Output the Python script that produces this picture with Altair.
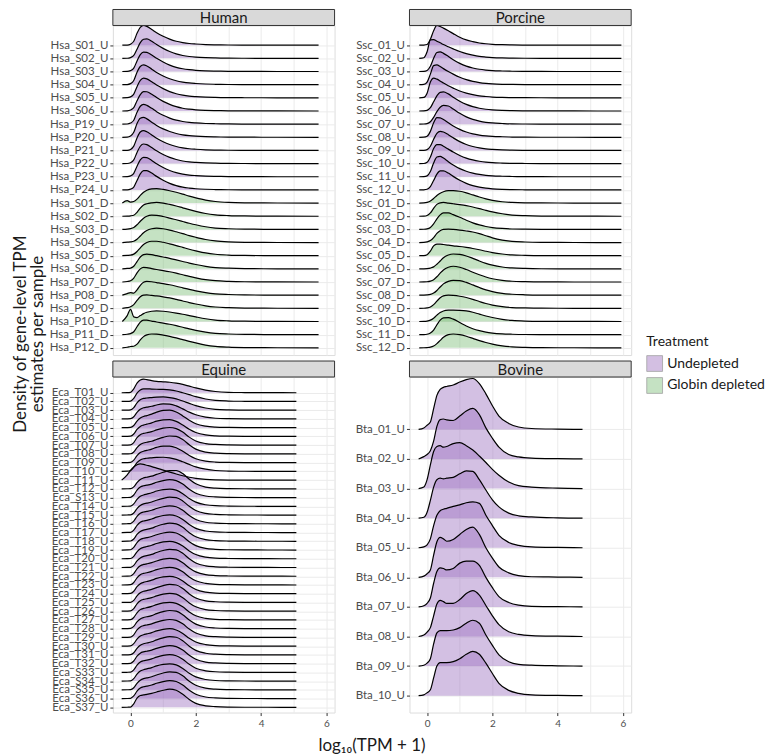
import json
import altair as alt
import pandas as pd

# ---------------- data (heights in units of ridge spacing) ----------------
HUMAN_X = [-0.25, -0.1, 0.0, 0.1, 0.2, 0.3, 0.4, 0.5, 0.65, 0.8, 1.0, 1.2, 1.4, 1.6, 1.8, 2.0, 2.3, 2.6, 3.0, 3.5, 4.5, 5.76]
HUMAN_SAMPLES = ["Hsa_S01_U", "Hsa_S02_U", "Hsa_S03_U", "Hsa_S04_U", "Hsa_S05_U", "Hsa_S06_U",
                 "Hsa_P19_U", "Hsa_P20_U", "Hsa_P21_U", "Hsa_P22_U", "Hsa_P23_U", "Hsa_P24_U",
                 "Hsa_S01_D", "Hsa_S02_D", "Hsa_S03_D", "Hsa_S04_D", "Hsa_S05_D", "Hsa_S06_D",
                 "Hsa_P07_D", "Hsa_P08_D", "Hsa_P09_D", "Hsa_P10_D", "Hsa_P11_D", "Hsa_P12_D"]
HUMAN_DENSITY = [
    [0, 0.01, 0.08, 0.30, 0.90, 1.35, 1.50, 1.43, 1.20, 0.95, 0.68, 0.46, 0.30, 0.20, 0.13, 0.09, 0.05, 0.03, 0.015, 0.008, 0.003, 0],
    [0, 0.01, 0.06, 0.22, 0.70, 1.20, 1.45, 1.48, 1.30, 1.05, 0.76, 0.52, 0.34, 0.22, 0.14, 0.09, 0.05, 0.03, 0.015, 0.008, 0.003, 0],
    [0, 0.01, 0.07, 0.26, 0.80, 1.28, 1.48, 1.45, 1.25, 1.00, 0.72, 0.49, 0.32, 0.21, 0.14, 0.09, 0.05, 0.03, 0.015, 0.008, 0.003, 0],
    [0, 0.01, 0.08, 0.32, 0.95, 1.38, 1.50, 1.42, 1.18, 0.93, 0.66, 0.45, 0.30, 0.20, 0.13, 0.09, 0.05, 0.03, 0.015, 0.008, 0.003, 0],
    [0, 0.01, 0.07, 0.28, 0.85, 1.32, 1.50, 1.44, 1.22, 0.97, 0.70, 0.47, 0.31, 0.20, 0.13, 0.09, 0.05, 0.03, 0.015, 0.008, 0.003, 0],
    [0, 0.01, 0.07, 0.25, 0.78, 1.25, 1.47, 1.46, 1.27, 1.02, 0.73, 0.50, 0.33, 0.21, 0.14, 0.09, 0.05, 0.03, 0.015, 0.008, 0.003, 0],
    [0, 0.01, 0.08, 0.30, 0.90, 1.36, 1.50, 1.43, 1.20, 0.95, 0.67, 0.46, 0.30, 0.20, 0.13, 0.09, 0.05, 0.03, 0.015, 0.008, 0.003, 0],
    [0, 0.01, 0.09, 0.38, 1.05, 1.45, 1.52, 1.40, 1.15, 0.90, 0.64, 0.44, 0.29, 0.19, 0.13, 0.09, 0.05, 0.03, 0.015, 0.008, 0.003, 0],
    [0, 0.01, 0.08, 0.33, 0.95, 1.40, 1.50, 1.42, 1.18, 0.93, 0.66, 0.45, 0.30, 0.20, 0.13, 0.09, 0.05, 0.03, 0.015, 0.008, 0.003, 0],
    [0, 0.01, 0.07, 0.28, 0.85, 1.32, 1.49, 1.44, 1.22, 0.97, 0.69, 0.47, 0.31, 0.20, 0.13, 0.09, 0.05, 0.03, 0.015, 0.008, 0.003, 0],
    [0, 0.01, 0.07, 0.26, 0.80, 1.28, 1.48, 1.45, 1.24, 0.99, 0.70, 0.48, 0.31, 0.20, 0.13, 0.09, 0.05, 0.03, 0.015, 0.008, 0.003, 0],
    [0, 0.01, 0.06, 0.22, 0.72, 1.22, 1.46, 1.47, 1.28, 1.03, 0.74, 0.50, 0.33, 0.21, 0.14, 0.09, 0.05, 0.03, 0.015, 0.008, 0.003, 0],
    [0, 0.18, 0.08, 0.12, 0.30, 0.58, 0.82, 0.98, 1.08, 1.10, 1.04, 0.94, 0.82, 0.68, 0.53, 0.40, 0.23, 0.12, 0.05, 0.02, 0.005, 0],
    [0, 0.01, 0.03, 0.08, 0.30, 0.62, 0.85, 0.95, 1.02, 1.05, 1.00, 0.90, 0.78, 0.64, 0.50, 0.37, 0.21, 0.11, 0.05, 0.02, 0.005, 0],
    [0, 0.02, 0.06, 0.15, 0.35, 0.62, 0.85, 1.00, 1.08, 1.07, 0.98, 0.86, 0.73, 0.60, 0.47, 0.35, 0.20, 0.10, 0.05, 0.02, 0.005, 0],
    [0, 0.03, 0.05, 0.10, 0.25, 0.50, 0.75, 0.92, 1.05, 1.10, 1.05, 0.95, 0.82, 0.68, 0.53, 0.40, 0.23, 0.12, 0.05, 0.02, 0.005, 0],
    [0, 0.02, 0.04, 0.12, 0.32, 0.60, 0.85, 1.00, 1.10, 1.10, 1.02, 0.90, 0.77, 0.63, 0.49, 0.37, 0.21, 0.11, 0.05, 0.02, 0.005, 0],
    [0, 0.03, 0.06, 0.20, 0.55, 0.90, 1.08, 1.12, 1.08, 1.00, 0.90, 0.80, 0.68, 0.56, 0.44, 0.33, 0.19, 0.10, 0.05, 0.02, 0.005, 0],
    [0, 0.04, 0.10, 0.30, 0.70, 1.00, 1.12, 1.10, 1.02, 0.95, 0.87, 0.78, 0.67, 0.55, 0.43, 0.32, 0.18, 0.10, 0.05, 0.02, 0.005, 0],
    [0, 0.12, 0.20, 0.15, 0.40, 0.75, 0.98, 1.05, 1.02, 0.96, 0.88, 0.79, 0.68, 0.56, 0.44, 0.33, 0.19, 0.10, 0.05, 0.02, 0.005, 0],
    [0, 0.05, 0.12, 0.28, 0.60, 0.88, 1.00, 1.02, 0.98, 0.94, 0.87, 0.79, 0.68, 0.56, 0.44, 0.33, 0.19, 0.10, 0.05, 0.02, 0.005, 0],
    [0, 0.45, 0.92, 0.35, 0.30, 0.45, 0.60, 0.70, 0.78, 0.80, 0.78, 0.72, 0.64, 0.55, 0.45, 0.35, 0.21, 0.11, 0.05, 0.02, 0.005, 0],
    [0, 0.03, 0.08, 0.22, 0.60, 0.95, 1.10, 1.10, 1.03, 0.96, 0.88, 0.79, 0.68, 0.56, 0.44, 0.33, 0.19, 0.10, 0.05, 0.02, 0.005, 0],
    [0, 0.04, 0.10, 0.12, 0.28, 0.60, 0.85, 0.98, 1.05, 1.04, 0.97, 0.87, 0.75, 0.62, 0.49, 0.37, 0.21, 0.11, 0.05, 0.02, 0.005, 0],
]

PORCINE_X = [-0.24, -0.1, 0.0, 0.1, 0.2, 0.3, 0.4, 0.5, 0.65, 0.8, 1.0, 1.2, 1.4, 1.6, 1.8, 2.0, 2.3, 2.6, 3.0, 3.5, 4.5, 5.95]
PORCINE_SAMPLES = ["Ssc_01_U", "Ssc_02_U", "Ssc_03_U", "Ssc_04_U", "Ssc_05_U", "Ssc_06_U",
                   "Ssc_07_U", "Ssc_08_U", "Ssc_09_U", "Ssc_10_U", "Ssc_11_U", "Ssc_12_U",
                   "Ssc_01_D", "Ssc_02_D", "Ssc_03_D", "Ssc_04_D", "Ssc_05_D", "Ssc_06_D",
                   "Ssc_07_D", "Ssc_08_D", "Ssc_09_D", "Ssc_10_D", "Ssc_11_D", "Ssc_12_D"]
PORCINE_DENSITY = [
    [0, 0.01, 0.05, 0.45, 1.10, 1.50, 1.42, 1.30, 1.10, 0.88, 0.60, 0.40, 0.27, 0.17, 0.11, 0.07, 0.04, 0.02, 0.01, 0.005, 0.002, 0],
    [0, 0.05, 0.50, 1.40, 1.42, 1.30, 1.18, 1.05, 0.88, 0.72, 0.52, 0.36, 0.24, 0.15, 0.10, 0.06, 0.03, 0.02, 0.01, 0.005, 0.002, 0],
    [0, 0.01, 0.08, 0.40, 1.00, 1.45, 1.50, 1.38, 1.15, 0.90, 0.62, 0.41, 0.27, 0.17, 0.11, 0.07, 0.04, 0.02, 0.01, 0.005, 0.002, 0],
    [0, 0.02, 0.20, 0.80, 1.45, 1.50, 1.38, 1.22, 1.00, 0.80, 0.56, 0.38, 0.25, 0.16, 0.10, 0.06, 0.03, 0.02, 0.01, 0.005, 0.002, 0],
    [0, 0.03, 0.35, 1.20, 1.50, 1.42, 1.28, 1.12, 0.92, 0.74, 0.52, 0.36, 0.24, 0.15, 0.10, 0.06, 0.03, 0.02, 0.01, 0.005, 0.002, 0],
    [0, 0.01, 0.05, 0.25, 0.70, 1.15, 1.42, 1.45, 1.30, 1.05, 0.74, 0.50, 0.33, 0.21, 0.13, 0.08, 0.04, 0.02, 0.01, 0.005, 0.002, 0],
    [0, 0.01, 0.04, 0.18, 0.52, 0.95, 1.28, 1.42, 1.38, 1.15, 0.82, 0.55, 0.36, 0.23, 0.14, 0.09, 0.05, 0.02, 0.01, 0.005, 0.002, 0],
    [0, 0.01, 0.08, 0.45, 1.10, 1.50, 1.48, 1.35, 1.10, 0.86, 0.60, 0.40, 0.26, 0.17, 0.11, 0.07, 0.04, 0.02, 0.01, 0.005, 0.002, 0],
    [0, 0.01, 0.06, 0.32, 0.85, 1.30, 1.45, 1.40, 1.20, 0.96, 0.67, 0.45, 0.30, 0.19, 0.12, 0.08, 0.04, 0.02, 0.01, 0.005, 0.002, 0],
    [0, 0.01, 0.10, 0.50, 1.15, 1.45, 1.45, 1.32, 1.10, 0.88, 0.62, 0.42, 0.28, 0.18, 0.11, 0.07, 0.04, 0.02, 0.01, 0.005, 0.002, 0],
    [0, 0.01, 0.07, 0.40, 1.05, 1.50, 1.55, 1.42, 1.15, 0.90, 0.62, 0.42, 0.28, 0.18, 0.11, 0.07, 0.04, 0.02, 0.01, 0.005, 0.002, 0],
    [0, 0.01, 0.05, 0.25, 0.72, 1.20, 1.45, 1.45, 1.28, 1.03, 0.73, 0.50, 0.33, 0.21, 0.13, 0.08, 0.04, 0.02, 0.01, 0.005, 0.002, 0],
    [0, 0.01, 0.05, 0.15, 0.35, 0.58, 0.75, 0.86, 0.94, 0.95, 0.90, 0.78, 0.62, 0.46, 0.32, 0.21, 0.10, 0.05, 0.02, 0.01, 0.003, 0],
    [0, 0.01, 0.06, 0.25, 0.60, 0.90, 1.02, 1.05, 1.00, 0.95, 0.88, 0.80, 0.70, 0.58, 0.45, 0.33, 0.19, 0.09, 0.04, 0.015, 0.004, 0],
    [0, 0.01, 0.04, 0.15, 0.42, 0.80, 1.10, 1.25, 1.25, 1.12, 0.92, 0.70, 0.50, 0.34, 0.22, 0.14, 0.07, 0.03, 0.015, 0.006, 0.002, 0],
    [0, 0.01, 0.05, 0.15, 0.38, 0.70, 0.90, 1.00, 1.02, 1.00, 0.95, 0.88, 0.80, 0.68, 0.52, 0.36, 0.19, 0.09, 0.04, 0.015, 0.004, 0],
    [0, 0.01, 0.08, 0.35, 0.75, 0.88, 0.88, 0.85, 0.80, 0.75, 0.70, 0.63, 0.55, 0.45, 0.34, 0.24, 0.13, 0.06, 0.03, 0.01, 0.003, 0],
    [0, 0.005, 0.02, 0.06, 0.15, 0.35, 0.60, 0.85, 1.05, 1.13, 1.10, 0.98, 0.80, 0.60, 0.42, 0.28, 0.14, 0.07, 0.03, 0.01, 0.003, 0],
    [0, 0.005, 0.02, 0.07, 0.18, 0.40, 0.68, 0.92, 1.12, 1.20, 1.12, 0.95, 0.74, 0.55, 0.38, 0.25, 0.13, 0.06, 0.03, 0.01, 0.003, 0],
    [0, 0.005, 0.02, 0.06, 0.16, 0.36, 0.62, 0.86, 1.05, 1.13, 1.10, 0.97, 0.78, 0.58, 0.40, 0.27, 0.14, 0.07, 0.03, 0.01, 0.003, 0],
    [0, 0.005, 0.03, 0.10, 0.28, 0.55, 0.80, 0.95, 1.00, 0.98, 0.92, 0.82, 0.68, 0.52, 0.37, 0.25, 0.13, 0.06, 0.03, 0.01, 0.003, 0],
    [0, 0.005, 0.03, 0.10, 0.25, 0.48, 0.68, 0.80, 0.86, 0.87, 0.85, 0.80, 0.70, 0.56, 0.42, 0.30, 0.16, 0.08, 0.03, 0.01, 0.003, 0],
    [0, 0.005, 0.03, 0.12, 0.35, 0.75, 1.10, 1.28, 1.30, 1.18, 0.92, 0.66, 0.45, 0.30, 0.19, 0.12, 0.06, 0.03, 0.01, 0.005, 0.002, 0],
    [0, 0.005, 0.02, 0.05, 0.14, 0.32, 0.56, 0.80, 1.00, 1.05, 1.00, 0.88, 0.72, 0.55, 0.40, 0.28, 0.15, 0.07, 0.03, 0.01, 0.003, 0],
]

EQUINE_X = [-0.27, -0.1, 0.0, 0.1, 0.2, 0.3, 0.4, 0.5, 0.65, 0.8, 1.0, 1.2, 1.4, 1.6, 1.8, 2.0, 2.3, 2.6, 3.0, 3.5, 4.2, 5.08]
EQUINE_SAMPLES = ["Eca_T01_U", "Eca_T02_U", "Eca_T03_U", "Eca_T04_U", "Eca_T05_U", "Eca_T06_U",
                  "Eca_T07_U", "Eca_T08_U", "Eca_T09_U", "Eca_T10_U", "Eca_T11_U", "Eca_T12_U",
                  "Eca_S13_U", "Eca_T14_U", "Eca_T15_U", "Eca_T16_U", "Eca_T17_U", "Eca_T18_U",
                  "Eca_T19_U", "Eca_T20_U", "Eca_T21_U", "Eca_T22_U", "Eca_T23_U", "Eca_T24_U",
                  "Eca_T25_U", "Eca_T26_U", "Eca_T27_U", "Eca_T28_U", "Eca_T29_U", "Eca_T30_U",
                  "Eca_T31_U", "Eca_T32_U", "Eca_S33_U", "Eca_S34_U", "Eca_S35_U", "Eca_S36_U",
                  "Eca_S37_U"]
EQUINE_DENSITY = [
    [0, 0.01, 0.05, 0.45, 1.10, 1.45, 1.55, 1.50, 1.38, 1.30, 1.25, 1.20, 1.10, 0.95, 0.75, 0.55, 0.30, 0.14, 0.05, 0.02, 0.005, 0],
    [0, 0.01, 0.04, 0.35, 0.95, 1.30, 1.45, 1.45, 1.42, 1.40, 1.38, 1.32, 1.20, 1.00, 0.78, 0.55, 0.28, 0.12, 0.05, 0.02, 0.005, 0],
    [0, 0.01, 0.04, 0.30, 0.85, 1.20, 1.35, 1.40, 1.45, 1.50, 1.52, 1.45, 1.30, 1.05, 0.78, 0.52, 0.25, 0.10, 0.04, 0.015, 0.005, 0],
    [0, 0.01, 0.03, 0.25, 0.75, 1.10, 1.28, 1.35, 1.45, 1.60, 1.72, 1.70, 1.50, 1.15, 0.78, 0.48, 0.20, 0.08, 0.03, 0.01, 0.005, 0],
    [0, 0.01, 0.03, 0.25, 0.75, 1.10, 1.28, 1.38, 1.55, 1.78, 1.98, 2.00, 1.80, 1.35, 0.85, 0.45, 0.17, 0.07, 0.03, 0.01, 0.005, 0],
    [0, 0.01, 0.03, 0.28, 0.80, 1.15, 1.30, 1.40, 1.55, 1.75, 1.90, 1.92, 1.72, 1.30, 0.82, 0.45, 0.17, 0.07, 0.03, 0.01, 0.005, 0],
    [0, 0.01, 0.03, 0.30, 0.85, 1.20, 1.35, 1.42, 1.55, 1.75, 1.95, 2.02, 1.90, 1.50, 0.92, 0.48, 0.18, 0.08, 0.03, 0.01, 0.005, 0],
    [0, 0.01, 0.02, 0.22, 0.72, 1.08, 1.25, 1.33, 1.45, 1.65, 1.90, 2.05, 2.00, 1.65, 1.05, 0.55, 0.20, 0.08, 0.03, 0.01, 0.005, 0],
    [0, 0.01, 0.03, 0.28, 0.80, 1.15, 1.30, 1.40, 1.55, 1.75, 1.90, 1.90, 1.70, 1.30, 0.82, 0.45, 0.17, 0.07, 0.03, 0.01, 0.005, 0],
    [0, 0.02, 0.10, 0.50, 1.00, 1.30, 1.45, 1.50, 1.55, 1.60, 1.62, 1.55, 1.38, 1.10, 0.80, 0.52, 0.25, 0.10, 0.04, 0.015, 0.005, 0],
    [0, 0.60, 1.10, 1.50, 1.75, 1.85, 1.80, 1.70, 1.55, 1.38, 1.15, 0.92, 0.70, 0.50, 0.33, 0.20, 0.08, 0.03, 0.01, 0.005, 0.002, 0],
    [0, 0.01, 0.02, 0.22, 0.72, 1.08, 1.25, 1.33, 1.45, 1.65, 1.90, 2.08, 2.10, 1.75, 1.10, 0.58, 0.20, 0.08, 0.03, 0.01, 0.005, 0],
    [0, 0.01, 0.03, 0.30, 0.85, 1.20, 1.35, 1.42, 1.55, 1.75, 1.95, 2.05, 1.95, 1.55, 0.95, 0.50, 0.18, 0.08, 0.03, 0.01, 0.005, 0],
    [0, 0.01, 0.03, 0.28, 0.80, 1.15, 1.30, 1.40, 1.55, 1.75, 1.92, 1.98, 1.85, 1.45, 0.90, 0.48, 0.18, 0.07, 0.03, 0.01, 0.005, 0],
    [0, 0.01, 0.02, 0.24, 0.75, 1.10, 1.28, 1.36, 1.50, 1.70, 1.92, 2.05, 2.00, 1.62, 1.00, 0.52, 0.19, 0.08, 0.03, 0.01, 0.005, 0],
    [0, 0.01, 0.03, 0.30, 0.85, 1.20, 1.35, 1.42, 1.55, 1.75, 1.95, 2.05, 1.95, 1.55, 0.95, 0.50, 0.18, 0.08, 0.03, 0.01, 0.005, 0],
    [0, 0.01, 0.03, 0.28, 0.82, 1.18, 1.32, 1.40, 1.55, 1.76, 1.95, 2.02, 1.90, 1.50, 0.92, 0.48, 0.18, 0.07, 0.03, 0.01, 0.005, 0],
    [0, 0.01, 0.03, 0.26, 0.78, 1.12, 1.28, 1.36, 1.50, 1.72, 1.95, 2.08, 2.00, 1.60, 0.98, 0.52, 0.19, 0.08, 0.03, 0.01, 0.005, 0],
    [0, 0.01, 0.03, 0.30, 0.85, 1.20, 1.35, 1.42, 1.55, 1.75, 1.95, 2.05, 1.95, 1.55, 0.95, 0.50, 0.18, 0.08, 0.03, 0.01, 0.005, 0],
    [0, 0.01, 0.03, 0.28, 0.80, 1.15, 1.30, 1.40, 1.55, 1.75, 1.93, 2.00, 1.85, 1.45, 0.90, 0.48, 0.18, 0.07, 0.03, 0.01, 0.005, 0],
    [0, 0.01, 0.02, 0.24, 0.75, 1.10, 1.28, 1.36, 1.50, 1.72, 1.95, 2.08, 2.02, 1.62, 1.00, 0.52, 0.19, 0.08, 0.03, 0.01, 0.005, 0],
    [0, 0.01, 0.03, 0.30, 0.85, 1.20, 1.35, 1.42, 1.55, 1.75, 1.95, 2.05, 1.95, 1.55, 0.95, 0.50, 0.18, 0.08, 0.03, 0.01, 0.005, 0],
    [0, 0.01, 0.03, 0.28, 0.82, 1.18, 1.33, 1.40, 1.55, 1.75, 1.94, 2.02, 1.90, 1.50, 0.92, 0.48, 0.18, 0.07, 0.03, 0.01, 0.005, 0],
    [0, 0.01, 0.03, 0.28, 0.80, 1.15, 1.30, 1.40, 1.55, 1.75, 1.92, 1.98, 1.85, 1.45, 0.90, 0.48, 0.18, 0.07, 0.03, 0.01, 0.005, 0],
    [0, 0.01, 0.02, 0.24, 0.75, 1.10, 1.28, 1.36, 1.50, 1.70, 1.93, 2.06, 2.00, 1.60, 0.98, 0.52, 0.19, 0.08, 0.03, 0.01, 0.005, 0],
    [0, 0.01, 0.03, 0.30, 0.85, 1.20, 1.35, 1.42, 1.55, 1.75, 1.95, 2.05, 1.95, 1.55, 0.95, 0.50, 0.18, 0.08, 0.03, 0.01, 0.005, 0],
    [0, 0.01, 0.03, 0.28, 0.82, 1.18, 1.32, 1.40, 1.55, 1.76, 1.95, 2.02, 1.90, 1.50, 0.92, 0.48, 0.18, 0.07, 0.03, 0.01, 0.005, 0],
    [0, 0.01, 0.03, 0.26, 0.78, 1.12, 1.28, 1.36, 1.50, 1.72, 1.95, 2.08, 2.00, 1.60, 0.98, 0.52, 0.19, 0.08, 0.03, 0.01, 0.005, 0],
    [0, 0.01, 0.03, 0.30, 0.85, 1.20, 1.35, 1.42, 1.55, 1.75, 1.95, 2.05, 1.95, 1.55, 0.95, 0.50, 0.18, 0.08, 0.03, 0.01, 0.005, 0],
    [0, 0.01, 0.03, 0.28, 0.80, 1.15, 1.30, 1.40, 1.55, 1.75, 1.93, 2.00, 1.85, 1.45, 0.90, 0.48, 0.18, 0.07, 0.03, 0.01, 0.005, 0],
    [0, 0.01, 0.02, 0.24, 0.75, 1.10, 1.28, 1.36, 1.50, 1.72, 1.95, 2.08, 2.02, 1.62, 1.00, 0.52, 0.19, 0.08, 0.03, 0.01, 0.005, 0],
    [0, 0.01, 0.03, 0.30, 0.85, 1.20, 1.35, 1.42, 1.55, 1.75, 1.95, 2.05, 1.95, 1.55, 0.95, 0.50, 0.18, 0.08, 0.03, 0.01, 0.005, 0],
    [0, 0.01, 0.03, 0.28, 0.82, 1.18, 1.33, 1.40, 1.55, 1.75, 1.94, 2.02, 1.90, 1.50, 0.92, 0.48, 0.18, 0.07, 0.03, 0.01, 0.005, 0],
    [0, 0.01, 0.03, 0.28, 0.80, 1.15, 1.30, 1.40, 1.55, 1.75, 1.92, 1.98, 1.85, 1.45, 0.90, 0.48, 0.18, 0.07, 0.03, 0.01, 0.005, 0],
    [0, 0.01, 0.02, 0.24, 0.75, 1.10, 1.28, 1.36, 1.50, 1.70, 1.93, 2.06, 2.00, 1.60, 0.98, 0.52, 0.19, 0.08, 0.03, 0.01, 0.005, 0],
    [0, 0.01, 0.03, 0.30, 0.85, 1.20, 1.35, 1.42, 1.55, 1.75, 1.95, 2.05, 1.95, 1.55, 0.95, 0.50, 0.18, 0.08, 0.03, 0.01, 0.005, 0],
    [0, 0.01, 0.02, 0.40, 1.05, 1.35, 1.42, 1.48, 1.60, 1.75, 1.95, 2.08, 1.95, 1.50, 0.90, 0.45, 0.17, 0.08, 0.03, 0.01, 0.005, 0],
]

BOVINE_X = [-0.26, -0.1, 0.0, 0.1, 0.2, 0.3, 0.4, 0.5, 0.6, 0.8, 1.0, 1.2, 1.4, 1.6, 1.8, 2.0, 2.2, 2.5, 2.8, 3.2, 4.0, 4.76]
BOVINE_SAMPLES = ["Bta_01_U", "Bta_02_U", "Bta_03_U", "Bta_04_U", "Bta_05_U",
                  "Bta_06_U", "Bta_07_U", "Bta_08_U", "Bta_09_U", "Bta_10_U"]
BOVINE_DENSITY = [
    [0, 0.05, 0.14, 0.25, 0.70, 1.15, 1.35, 1.42, 1.45, 1.50, 1.60, 1.68, 1.72, 1.55, 1.20, 0.80, 0.45, 0.20, 0.08, 0.03, 0.01, 0],
    [0, 0.08, 0.15, 0.28, 0.60, 1.10, 1.33, 1.35, 1.32, 1.30, 1.45, 1.62, 1.71, 1.50, 1.05, 0.70, 0.40, 0.15, 0.07, 0.03, 0.01, 0],
    [0, 0.05, 0.30, 0.80, 1.25, 1.42, 1.45, 1.40, 1.42, 1.52, 1.55, 1.45, 1.30, 1.10, 0.88, 0.65, 0.45, 0.22, 0.10, 0.05, 0.015, 0],
    [0, 0.03, 0.20, 0.60, 1.05, 1.30, 1.35, 1.33, 1.35, 1.38, 1.50, 1.60, 1.58, 1.30, 0.95, 0.62, 0.38, 0.17, 0.08, 0.04, 0.01, 0],
    [0, 0.03, 0.10, 0.30, 0.75, 1.10, 1.25, 1.30, 1.33, 1.40, 1.45, 1.52, 1.55, 1.50, 1.10, 0.75, 0.42, 0.18, 0.08, 0.03, 0.01, 0],
    [0, 0.04, 0.12, 0.25, 0.75, 1.20, 1.35, 1.30, 1.22, 1.28, 1.45, 1.62, 1.70, 1.45, 1.00, 0.65, 0.35, 0.15, 0.06, 0.02, 0.01, 0],
    [0, 0.04, 0.12, 0.30, 0.80, 1.20, 1.32, 1.30, 1.25, 1.30, 1.48, 1.55, 1.55, 1.40, 1.00, 0.65, 0.35, 0.15, 0.06, 0.02, 0.01, 0],
    [0, 0.05, 0.15, 0.30, 0.70, 1.10, 1.22, 1.18, 1.12, 1.12, 1.25, 1.45, 1.55, 1.40, 1.05, 0.70, 0.40, 0.16, 0.07, 0.03, 0.01, 0],
    [0, 0.03, 0.10, 0.25, 0.75, 1.12, 1.20, 1.20, 1.20, 1.22, 1.30, 1.45, 1.55, 1.45, 1.05, 0.70, 0.38, 0.15, 0.06, 0.03, 0.01, 0],
    [0, 0.03, 0.10, 0.20, 0.60, 1.00, 1.12, 1.12, 1.12, 1.15, 1.25, 1.40, 1.50, 1.40, 1.10, 0.75, 0.42, 0.18, 0.08, 0.03, 0.01, 0],
]

TREATMENTS = ["Undepleted", "Globin depleted"]
TREATMENT_COLORS = ["#9e73c0", "#7fbf7b"]
X_TICKS = [0, 1, 2, 3, 4, 5, 6]

# ---------------- layout constants ----------------
W = 222
FONT = "Lato"
XSCALE = alt.Scale(domain=[-0.54, 6.25], nice=False, zero=False)


def frame(xs, samples, dens):
    rows = []
    n = len(samples)
    for i, (s, d) in enumerate(zip(samples, dens)):
        base = n - 1 - i
        tr = TREATMENTS[0] if s.endswith("_U") else TREATMENTS[1]
        for x, h in zip(xs, d):
            rows.append({"sample": s, "row": i, "treatment": tr, "x": x,
                         "base": base, "top": base + h})
    return pd.DataFrame(rows)


def fill_enc():
    return alt.Fill("treatment:N",
                    scale=alt.Scale(domain=TREATMENTS, range=TREATMENT_COLORS),
                    legend=alt.Legend(title="Treatment", orient="none",
                                      legendX=534, legendY=310,
                                      symbolType="square", symbolSize=250,
                                      symbolStrokeColor="#333333", symbolStrokeWidth=0.8,
                                      symbolOpacity=0.45,
                                      titleFontSize=14, labelFontSize=14,
                                      titleFont=FONT, labelFont=FONT,
                                      titleFontWeight="normal", titleColor="#1a1a1a",
                                      labelColor="#1a1a1a", rowPadding=1, titlePadding=6))


def panel(name, xs, samples, dens, height, ydom, show_x, extras=()):
    df = frame(xs, samples, dens)
    n = len(samples)
    labels = list(reversed(samples))
    if show_x:
        xaxis = alt.Axis(values=X_TICKS, tickCount=20, title=None, domain=False, grid=True,
                         gridColor="#ebebeb", gridWidth=1,
                         labelExpr="datum.value % 2 == 0 ? format(datum.value, 'd') : ''",
                         tickColor={"condition": {"test": "datum.value % 2 == 1", "value": "transparent"},
                                    "value": "#333333"},
                         tickSize=3, labelPadding=3, labelFontSize=10, labelColor="#4d4d4d",
                         labelFont=FONT)
    else:
        xaxis = alt.Axis(values=X_TICKS, tickCount=20, title=None, domain=False, grid=True,
                         gridColor="#ebebeb", gridWidth=1, labels=False, ticks=False)
    yaxis = alt.Axis(values=list(range(n)), tickCount=n + 5, title=None, domain=False, grid=True,
                     gridColor="#ebebeb", gridWidth=1, labelOverlap=False,
                     labelExpr=json.dumps(labels) + "[datum.value]",
                     tickSize=3, tickColor="#333333", labelPadding=2,
                     labelFontSize=11.5, labelColor="#4d4d4d", labelFont=FONT)
    yscale = alt.Scale(domain=ydom, nice=False, zero=False)
    base = alt.Chart(df)
    area = base.mark_area(interpolate="monotone", fillOpacity=0.45, strokeWidth=0).encode(
        x=alt.X("x:Q", scale=XSCALE, axis=xaxis),
        y=alt.Y("top:Q", scale=yscale, axis=yaxis),
        y2="base:Q",
        fill=fill_enc(),
        detail="sample:N",
    )
    line = base.mark_line(interpolate="monotone", color="#000000", strokeWidth=1.2).encode(
        x="x:Q", y="top:Q", detail="sample:N")
    sd = alt.Data(values=[{"t": name}])
    strip = alt.Chart(sd).mark_rect(fill="#d9d9d9", stroke="#333333", strokeWidth=1).encode(
        x=alt.value(0), x2=alt.value(W), y=alt.value(-16), y2=alt.value(0))
    strip_text = alt.Chart(sd).mark_text(font=FONT, fontSize=15, color="#1a1a1a",
                                         baseline="middle", align="center").encode(
        x=alt.value(W / 2), y=alt.value(-7.5), text="t:N")
    return alt.layer(area, line, strip, strip_text, *extras).properties(width=W, height=height)


def title_text(text, x, y, angle=0):
    return alt.Chart(alt.Data(values=[{"t": text}])).mark_text(
        font=FONT, fontSize=17, angle=angle, align="center", baseline="middle",
        color="#1a1a1a").encode(x=alt.value(x), y=alt.value(y), text="t:N")


ytitle1 = title_text("Density of gene-level TPM", -92, 309, 270)
ytitle2 = title_text("estimates per sample", -75, 309, 270)
xtitle = title_text("log\u2081\u2080(TPM + 1)", 259.5, 369)

human = panel("Human", HUMAN_X, HUMAN_SAMPLES, HUMAN_DENSITY, 330, [-0.55, 24.5], False, [ytitle1, ytitle2])
porcine = panel("Porcine", PORCINE_X, PORCINE_SAMPLES, PORCINE_DENSITY, 330, [-0.55, 24.5], False)
equine = panel("Equine", EQUINE_X, EQUINE_SAMPLES, EQUINE_DENSITY, 336, [-0.6, 37.8], True, [xtitle])
bovine = panel("Bovine", BOVINE_X, BOVINE_SAMPLES, BOVINE_DENSITY, 336, [-0.57, 10.77], True)

chart = alt.concat(human, porcine, equine, bovine, columns=2,
                   spacing={"row": 22, "column": 75}).properties(
    bounds="flush", padding={"left": 3, "top": 0, "right": 0, "bottom": 0}
).configure_view(stroke="#333333", strokeWidth=1.2).configure(font=FONT)

chart.save("out.html", embed_options={"renderer": "svg", "actions": False})
